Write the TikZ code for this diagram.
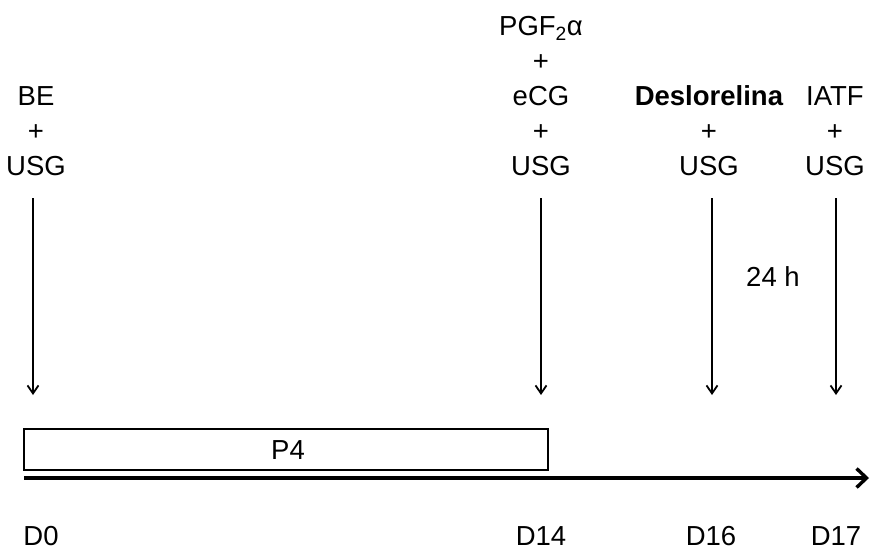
\documentclass[tikz,border=0pt]{standalone}
\usepackage{fontspec}
\setmainfont{Liberation Sans}
\usetikzlibrary{arrows.meta}
\begin{document}
\begin{tikzpicture}[x=1pt,y=-1pt,
  lbl/.style={font=\fontsize{27.5}{35}\selectfont, align=center, inner sep=0pt},
  drop/.style={line width=1.8pt, -{Straight Barb[length=8pt,width=11pt]}},
  axis/.style={line width=3.4pt, -{Straight Barb[length=10pt,width=19pt]}},
  bar/.style={draw, line width=2.4pt, inner sep=0pt}]
\useasboundingbox (0,0) rectangle (870,551);

% treatment labels above the time line
\node[lbl, anchor=south] (l0)  at (36,176)  {BE\\+\\USG};
\node[lbl, anchor=south] (l14) at (541,176) {PGF\textsubscript{2}α\\+\\eCG\\+\\USG};
\node[lbl, anchor=south] (l16) at (709,176) {\textbf{Deslorelina}\hspace{4pt}\\+\\USG};
\node[lbl, anchor=south] (l17) at (835,176) {IATF\hspace{11pt}\\+\\USG};

% downward arrows
\foreach \n/\x in {0/33, 14/541, 16/712, 17/836} {
  \coordinate (top\n) at (\x,198);
  \coordinate (tip\n) at (\x,395);
  \draw[drop] (top\n) -- (tip\n);
}
\node[lbl] (gap) at (773,277) {24 h};

% progesterone device period
\coordinate (p4a) at (24,429);
\coordinate (p4b) at (548,470);
\draw[line width=2.4pt] (p4a) rectangle (p4b);
\node[lbl] (p4) at (288,450) {P4};

% time axis
\coordinate (t0) at (24,478);
\coordinate (t1) at (869,478);
\draw[axis] (t0) -- (t1);

% day labels
\node[lbl] (d0)  at (41,536)  {D0};
\node[lbl] (d14) at (541,536) {D14};
\node[lbl] (d16) at (711,536) {D16};
\node[lbl] (d17) at (836,536) {D17};
\end{tikzpicture}
\end{document}
